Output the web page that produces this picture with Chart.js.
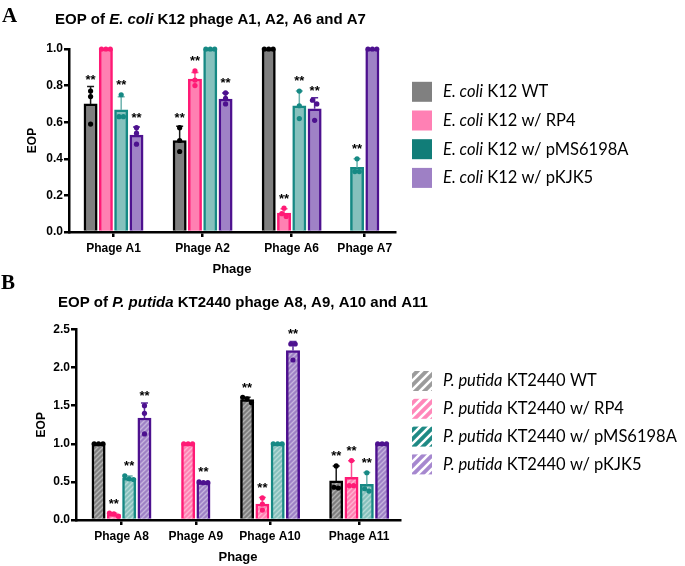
<!DOCTYPE html>
<html lang="en">
<head>
<meta charset="UTF-8">
<title>EOP</title>
<script src="https://cdn.jsdelivr.net/npm/chart.js"></script>
<style>
  html, body { margin: 0; padding: 0; background: #fff; }
  body { width: 685px; height: 566px; position: relative; overflow: hidden; }
  .wrap { position: absolute; left: 0; width: 685px; }
  #wrapA { top: 0; height: 280px; }
  #wrapB { top: 280px; height: 286px; }
  .panel { position: absolute; font-family: "Liberation Serif", "DejaVu Serif", serif;
           font-weight: bold; font-size: 21px; line-height: 21px; }
</style>
</head>
<body>
<div class="wrap" id="wrapA"><canvas id="chartA" width="685" height="280"></canvas></div>
<div class="wrap" id="wrapB"><canvas id="chartB" width="685" height="286"></canvas></div>
<div class="panel" style="left:2px; top:5px">A</div>
<div class="panel" style="left:1px; top:272px">B</div>

<script>
// ---------- panel A : E. coli K12 ----------
const phagesA = ['Phage A1', 'Phage A2', 'Phage A6', 'Phage A7'];
const slotsA = [1, 2, 3, 3.82];          // group positions on the x axis (A7 sits closer)
const yTicksA = [0, 0.2, 0.4, 0.6, 0.8, 1.0];
const hostA = 'E. coli';
const strainsA = ['K12 WT', 'K12 w/ RP4', 'K12 w/ pMS6198A', 'K12 w/ pKJK5'];

const wtA  = [0.70, 0.50, 1.00, null];
const rp4A = [1.00, 0.836, 0.104, null];
const pmsA = [0.667, 1.00, 0.69, 0.353];
const pkjA = [0.529, 0.727, 0.673, 1.00];

const wtA_sd  = [0.095, 0.078, 0, null];
const rp4A_sd = [0, 0.036, 0.023, null];
const pmsA_sd = [0.072, 0, 0.08, 0.047];
const pkjA_sd = [0.045, 0.033, 0.06, 0];

const wtA_pts  = [[0.77, 0.74, 0.59], [0.57, 0.50, 0.44], [1, 1, 1], null];
const rp4A_pts = [[1, 1, 1], [0.88, 0.83, 0.80], [0.13, 0.10, 0.085], null];
const pmsA_pts = [[0.75, 0.63, 0.63], [1, 1, 1], [0.77, 0.69, 0.62], [0.40, 0.33, 0.33]];
const pkjA_pts = [[0.57, 0.54, 0.48], [0.76, 0.73, 0.70], [0.72, 0.70, 0.61], [1, 1, 1]];

const wtA_sig  = ['**', '**', '', ''];
const rp4A_sig = ['', '**', '**', ''];
const pmsA_sig = ['**', '', '**', '**'];
const pkjA_sig = ['**', '**', '**', ''];

// ---------- panel B : P. putida KT2440 ----------
const phagesB = ['Phage A8', 'Phage A9', 'Phage A10', 'Phage A11'];
const slotsB = [1, 2, 3, 4.2];
const yTicksB = [0, 0.5, 1.0, 1.5, 2.0, 2.5];
const hostB = 'P. putida';
const strainsB = ['KT2440 WT', 'KT2440 w/ RP4', 'KT2440 w/ pMS6198A', 'KT2440 w/ pKJK5'];

const wtB  = [1.00, null, 1.58, 0.513];
const rp4B = [0.07, 1.00, 0.21, 0.561];
const pmsB = [0.548, null, 1.00, 0.469];
const pkjB = [1.338, 0.49, 2.224, 1.00];

const wtB_sd  = [0, null, 0.03, 0.197];
const rp4B_sd = [0.02, 0, 0.084, 0.215];
const pmsB_sd = [0.03, null, 0, 0.153];
const pkjB_sd = [0.197, 0.01, 0.118, 0];

const wtB_pts  = [[1, 1, 1], null, [1.61, 1.59, 1.54], [0.71, 0.43, 0.42]];
const rp4B_pts = [[0.05, 0.08, 0.09], [1, 1, 1], [0.29, 0.21, 0.13], [0.78, 0.45, 0.45]];
const pmsB_pts = [[0.58, 0.54, 0.53], null, [1, 1, 1], [0.62, 0.41, 0.38]];
const pkjB_pts = [[1.50, 1.40, 1.13], [0.50, 0.49, 0.49], [2.31, 2.31, 2.10], [1, 1, 1]];

const wtB_sig  = ['', '', '**', '**'];
const rp4B_sig = ['**', '', '**', '**'];
const pmsB_sig = ['**', '', '', '**'];
const pkjB_sig = ['**', '**', '**', ''];

// ---------- styles ----------
const SANS = '"Liberation Sans", Arial, sans-serif';
const LEG = 'Lato, "Open Sans", sans-serif';
const fills   = ['#7f7f7f', '#ff80b2', '#86c1bd', '#9f82c6'];
const borders = ['#000000', '#ff1a75', '#168984', '#4d118f'];
const errCols = ['#1a1a1a', '#ff4f95', '#6db3ae', '#5b2c9b'];
const legendA = ['#808080', '#ff80b4', '#117d78', '#9e80c5'];
const legendB = ['#9c9c9c', '#ff88ba', '#1f8a85', '#a688cf'];

function hatch(base, line, size, lw) {
    const c = document.createElement('canvas');
    c.width = size; c.height = size;
    const g = c.getContext('2d');
    g.fillStyle = base;
    g.fillRect(0, 0, size, size);
    g.strokeStyle = line;
    g.lineWidth = lw;
    g.beginPath();
    g.moveTo(0, size); g.lineTo(size, 0);
    g.moveTo(-size, size); g.lineTo(size, -size);
    g.moveTo(0, 2 * size); g.lineTo(2 * size, 0);
    g.stroke();
    return g.createPattern(c, 'repeat');
}

function makeSets(series, sds, pts, sig, slots, host, strains, hatched, legendCols) {
    return series.map((vals, k) => ({
        label: host + ' ' + strains[k],
        data: slots.map((x, i) => ({ x: x, y: vals[i] })),
        backgroundColor: hatched ? hatch(fills[k], 'rgba(255,255,255,0.4)', 5, 1.4) : fills[k],
        borderColor: borders[k],
        borderWidth: 2.5,
        sd: sds[k], pts: pts[k], sig: sig[k],
        errColor: errCols[k], dotColor: borders[k],
        legendFill: hatched ? hatch(legendCols[k], '#ffffff', 9, 2.6) : legendCols[k]
    }));
}

// error bars, replicate dots and significance stars, placed from each bar element
const marks = {
    id: 'marks',
    afterDatasetsDraw(chart) {
        const ctx = chart.ctx, ys = chart.scales.y;
        chart.data.datasets.forEach((ds, di) => {
            const meta = chart.getDatasetMeta(di);
            meta.data.forEach((bar, i) => {
                const v = ds.data[i].y;
                if (v == null) return;
                const x = bar.x;
                let top = ys.getPixelForValue(v);
                ctx.save();
                const sd = ds.sd[i];
                if (sd > 0) {
                    const yt = ys.getPixelForValue(v + sd);
                    ctx.strokeStyle = ds.errColor;
                    ctx.lineWidth = 1.5;
                    ctx.beginPath();
                    ctx.moveTo(x, top); ctx.lineTo(x, yt);
                    ctx.moveTo(x - 3.5, yt); ctx.lineTo(x + 3.5, yt);
                    ctx.stroke();
                    top = Math.min(top, yt);
                }
                const py = ds.pts[i].map(p => ys.getPixelForValue(p)).sort((a, b) => a - b);
                const groups = [];
                py.forEach(p => {
                    const g = groups[groups.length - 1];
                    if (g && p - g[g.length - 1] < 5) g.push(p); else groups.push([p]);
                });
                ctx.fillStyle = ds.dotColor;
                groups.forEach(g => g.forEach((p, j) => {
                    const dx = (j - (g.length - 1) / 2) * 4.4;
                    ctx.beginPath();
                    ctx.arc(x + dx, p, 2.6, 0, Math.PI * 2);
                    ctx.fill();
                }));
                top = Math.min(top, py[0] - 2.6);
                if (ds.sig[i]) {
                    ctx.font = 'bold 13px ' + SANS;
                    ctx.fillStyle = '#000';
                    ctx.textAlign = 'center';
                    ctx.textBaseline = 'alphabetic';
                    ctx.fillText(ds.sig[i], x, top - 3);
                }
                ctx.restore();
            });
        });
    }
};

function drawParts(ctx, x, y, parts, size, family) {
    parts.forEach(([text, style]) => {
        ctx.font = style + ' ' + size + 'px ' + family;
        ctx.fillText(text, x, y);
        x += ctx.measureText(text).width;
    });
}

// title and legend with mixed italic text
function deco(title, titleX, titleY, legTop, legStep, host) {
    return {
        id: 'deco',
        afterDraw(chart) {
            const ctx = chart.ctx;
            ctx.save();
            ctx.fillStyle = '#000';
            ctx.textAlign = 'left';
            ctx.textBaseline = 'middle';
            drawParts(ctx, titleX, titleY, title, 15, SANS);
            chart.data.datasets.forEach((ds, k) => {
                const cy = legTop + k * legStep;
                ctx.fillStyle = ds.legendFill;
                ctx.fillRect(412, cy - 10, 20, 20);
                ctx.fillStyle = '#000';
                drawParts(ctx, 443, cy, [[host, 'italic'], [ds.label.slice(host.length), 'normal']], 16.5, LEG);
            });
            ctx.restore();
        }
    };
}

function makeChart(id, opt) {
    const tickFont = { family: SANS, weight: 'bold', size: 12 };
    return new Chart(document.getElementById(id), {
        type: 'bar',
        data: { datasets: opt.sets },
        options: {
            responsive: false,
            animation: false,
            layout: { padding: { top: opt.top, left: 0, right: opt.right, bottom: 0 } },
            datasets: { bar: { barThickness: 15.3, maxBarThickness: 13.3, skipNull: true } },
            plugins: { legend: { display: false }, tooltip: { enabled: false } },
            scales: {
                x: {
                    type: 'linear', offset: false, bounds: 'data',
                    min: opt.xmin, max: opt.xmax,
                    afterBuildTicks: s => { s.ticks = opt.slots.map(v => ({ value: v })); },
                    afterFit: s => { s.height = opt.xh; },
                    grid: { display: true, offset: false, drawOnChartArea: false, drawTicks: true,
                            tickLength: 5, lineWidth: 2.5, color: '#000' },
                    border: { display: true, color: '#000', width: 2.5 },
                    ticks: { autoSkip: false, maxRotation: 0, minRotation: 0, padding: 4,
                             color: '#000', font: tickFont,
                             callback: (v, i) => opt.labels[i] },
                    title: { display: true, text: 'Phage', color: '#000',
                             font: { family: SANS, weight: 'bold', size: 13 },
                             padding: { top: 0, bottom: opt.xtPad } }
                },
                y: {
                    min: 0, max: opt.yTicks[opt.yTicks.length - 1],
                    afterBuildTicks: s => { s.ticks = opt.yTicks.map(v => ({ value: v })); },
                    afterFit: s => { s.width = opt.yw; },
                    grid: { display: true, drawOnChartArea: false, drawTicks: true,
                            tickLength: 5, lineWidth: 2.5, color: '#000' },
                    border: { display: true, color: '#000', width: 2.5 },
                    ticks: { padding: 1, color: '#000', font: tickFont,
                             callback: v => v.toFixed(1) },
                    title: { display: true, text: 'EOP', color: '#000',
                             font: { family: SANS, weight: 'bold', size: 12 },
                             padding: { top: opt.ytPad, bottom: 0 } }
                }
            }
        },
        plugins: [marks, opt.deco]
    });
}

makeChart('chartA', {
    sets: makeSets([wtA, rp4A, pmsA, pkjA], [wtA_sd, rp4A_sd, pmsA_sd, pkjA_sd],
                   [wtA_pts, rp4A_pts, pmsA_pts, pkjA_pts], [wtA_sig, rp4A_sig, pmsA_sig, pkjA_sig],
                   slotsA, hostA, strainsA, false, legendA),
    slots: slotsA, labels: phagesA, yTicks: yTicksA,
    xmin: 0.5, xmax: 4.16, top: 49, right: 290, xh: 48, yw: 69, xtPad: 3.2, ytPad: 25.8,
    deco: deco([['EOP of ', 'bold'], [hostA, 'italic bold'], [' K12 phage A1, A2, A6 and A7', 'bold']],
               55, 20, 91.8, 28.7, hostA)
});

makeChart('chartB', {
    sets: makeSets([wtB, rp4B, pmsB, pkjB], [wtB_sd, rp4B_sd, pmsB_sd, pkjB_sd],
                   [wtB_pts, rp4B_pts, pmsB_pts, pkjB_pts], [wtB_sig, rp4B_sig, pmsB_sig, pkjB_sig],
                   slotsB, hostB, strainsB, true, legendB),
    slots: slotsB, labels: phagesB, yTicks: yTicksB,
    xmin: 0.387, xmax: 4.75, top: 49.5, right: 285, xh: 46, yw: 76, xtPad: 0.5, ytPad: 34.8,
    deco: deco([['EOP of ', 'bold'], [hostB, 'italic bold'], [' KT2440 phage A8, A9, A10 and A11', 'bold']],
               58, 22.5, 101, 27.8, hostB)
});
</script>
</body>
</html>
